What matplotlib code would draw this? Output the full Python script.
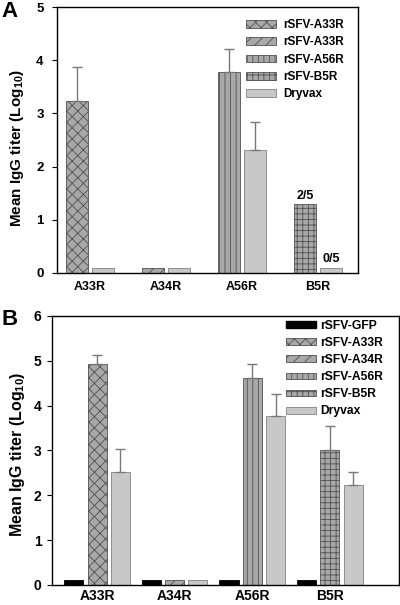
import numpy as np
import matplotlib
matplotlib.use('Agg')
import matplotlib.pyplot as plt
from matplotlib.patches import Patch

plt.rcParams['font.family'] = ['Liberation Sans', 'DejaVu Sans']
plt.rcParams['font.weight'] = 'bold'
plt.rcParams['hatch.linewidth'] = 0.6
plt.rcParams['mathtext.fontset'] = 'custom'
plt.rcParams['mathtext.bf'] = 'Liberation Sans:bold'

# данные
cats = ['A33R', 'A34R', 'A56R', 'B5R']

# панель A
a_vacc = [3.23, 0.1, 3.77, 1.29]
a_vacc_err = [0.64, 0, 0.44, 0]
a_dry = [0.1, 0.1, 2.32, 0.1]
a_dry_err = [0, 0, 0.51, 0]
a_hatch = ['xxx', '///', '|||', '+++']
a_labels = ['rSFV-A33R', 'rSFV-A33R', 'rSFV-A56R', 'rSFV-B5R', 'Dryvax']
a_notes = {3: ('2/5', '0/5')}

# панель B
b_gfp = [0.1, 0.1, 0.1, 0.1]
b_vacc = [4.92, 0.1, 4.62, 3.0]
b_vacc_err = [0.2, 0, 0.3, 0.55]
b_dry = [2.52, 0.1, 3.77, 2.22]
b_dry_err = [0.52, 0, 0.5, 0.29]
b_labels = ['rSFV-GFP', 'rSFV-A33R', 'rSFV-A34R', 'rSFV-A56R', 'rSFV-B5R', 'Dryvax']

hatch_fill = '#a8a8a8'
hatch_edge = '#505050'
dry_fill = '#c8c8c8'
dry_edge = '#808080'
err_kw = dict(ecolor='#787878', elinewidth=1, capsize=3.5, capthick=1)
ylab = 'Mean IgG titer (Log$_{\\mathbf{10}}$)'

fig = plt.figure(figsize=(4, 6.05), dpi=100)
axA = fig.add_axes([0.1425, 0.5488, 0.7525, 0.4396])
axB = fig.add_axes([0.13, 0.0331, 0.8675, 0.4446])

x = np.arange(len(cats))

# ---- A ----
w = 0.28
for i in range(len(cats)):
    axA.bar(x[i] - 0.171, a_vacc[i], w, color=hatch_fill, edgecolor=hatch_edge,
            hatch=a_hatch[i], linewidth=0.6)
    if a_vacc_err[i] > 0:
        axA.errorbar(x[i] - 0.171, a_vacc[i], yerr=[[0], [a_vacc_err[i]]], fmt='none', **err_kw)
    axA.bar(x[i] + 0.171, a_dry[i], w, color=dry_fill, edgecolor=dry_edge, linewidth=0.6)
    if a_dry_err[i] > 0:
        axA.errorbar(x[i] + 0.171, a_dry[i], yerr=[[0], [a_dry_err[i]]], fmt='none', **err_kw)
for i, (t1, t2) in a_notes.items():
    axA.text(x[i] - 0.171, a_vacc[i] + 0.05, t1, ha='center', va='bottom', fontsize=9)
    axA.text(x[i] + 0.171, a_dry[i] + 0.05, t2, ha='center', va='bottom', fontsize=9)

axA.set_xlim(-0.434, 3.526)
axA.set_ylim(0, 5)
axA.set_yticks(range(6))
axA.set_xticks(x)
axA.set_xticklabels(cats, fontsize=9, fontweight='bold')
axA.tick_params(axis='x', length=0, pad=6)
axA.tick_params(axis='y', length=3.6, width=0.8, labelsize=9.5, direction='out', pad=6)
axA.set_ylabel(ylab, fontsize=11, fontweight='bold', va='center')
axA.yaxis.set_label_coords(-0.133, 0.468)

handlesA = [Patch(facecolor=hatch_fill, edgecolor=hatch_edge, hatch=h, linewidth=0.6) for h in a_hatch]
handlesA.append(Patch(facecolor=dry_fill, edgecolor=dry_edge, linewidth=0.6))
axA.legend(handlesA, a_labels, loc='upper right', frameon=False, fontsize=8.5,
           handlelength=2.55, handleheight=0.6, labelspacing=0.45, handletextpad=0.6,
           borderpad=0, borderaxespad=0, bbox_to_anchor=(0.953, 0.955))

# ---- B ----
w = 0.245
off = 0.3
for i in range(len(cats)):
    axB.bar(x[i] - off, b_gfp[i], w, color='black', edgecolor='black', linewidth=0.6)
    axB.bar(x[i], b_vacc[i], w, color=hatch_fill, edgecolor=hatch_edge,
            hatch=a_hatch[i], linewidth=0.6)
    if b_vacc_err[i] > 0:
        axB.errorbar(x[i], b_vacc[i], yerr=[[0], [b_vacc_err[i]]], fmt='none', **err_kw)
    axB.bar(x[i] + off, b_dry[i], w, color=dry_fill, edgecolor=dry_edge, linewidth=0.6)
    if b_dry_err[i] > 0:
        axB.errorbar(x[i] + off, b_dry[i], yerr=[[0], [b_dry_err[i]]], fmt='none', **err_kw)

axB.set_xlim(-0.58, 3.89)
axB.set_ylim(0, 6)
axB.set_yticks(range(7))
axB.set_xticks(x)
axB.set_xticklabels(cats, fontsize=10, fontweight='bold')
axB.tick_params(axis='x', length=0, pad=3)
axB.tick_params(axis='y', length=3.6, width=0.8, labelsize=10, direction='out', pad=4)
axB.set_ylabel(ylab, fontsize=11.5, fontweight='bold', va='center')
axB.yaxis.set_label_coords(-0.0994, 0.485)

handlesB = [Patch(facecolor='black', edgecolor='black')]
handlesB += [Patch(facecolor=hatch_fill, edgecolor=hatch_edge, hatch=h, linewidth=0.6) for h in a_hatch]
handlesB.append(Patch(facecolor=dry_fill, edgecolor=dry_edge, linewidth=0.6))
axB.legend(handlesB, b_labels, loc='upper right', frameon=False, fontsize=8.7,
           handlelength=2.5, handleheight=0.5, labelspacing=0.42, handletextpad=0.35,
           borderpad=0, borderaxespad=0, bbox_to_anchor=(0.955, 0.985))

# буквы панелей
fig.text(0.003, 0.999, 'A', fontsize=16, fontweight='bold', ha='left', va='top')
fig.text(0.003, 0.489, 'B', fontsize=16, fontweight='bold', ha='left', va='top')

for ax in (axA, axB):
    for lab in ax.get_yticklabels():
        lab.set_fontweight('bold')
    for s in ax.spines.values():
        s.set_linewidth(1.0)

fig.savefig('out.png', dpi=100)
